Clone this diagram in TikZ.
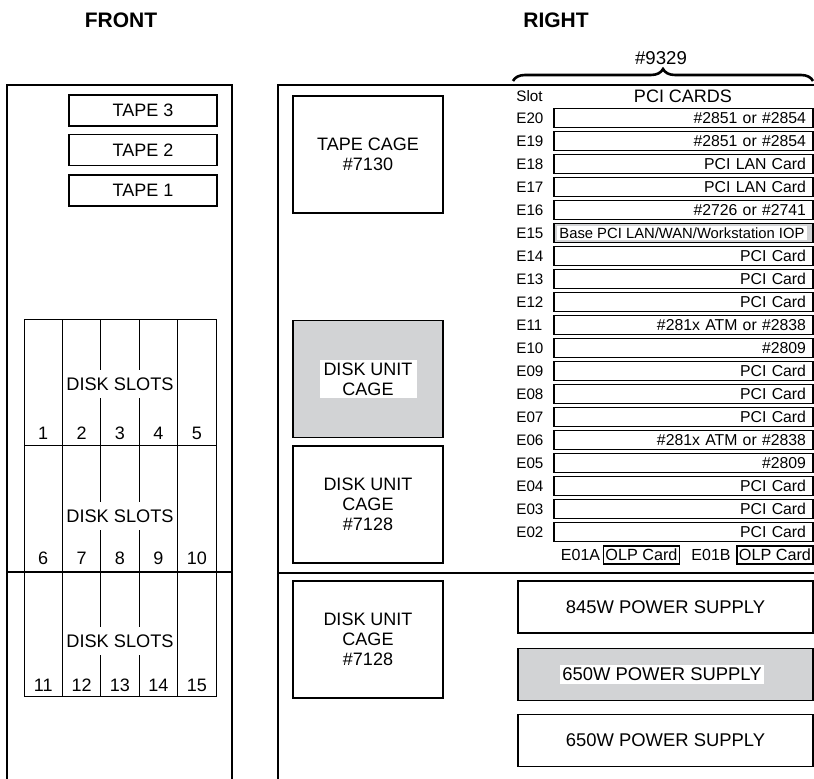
\documentclass[tikz,border=0pt]{standalone}
\usepackage{fontspec}
\setmainfont{Liberation Sans}
\usetikzlibrary{decorations.pathreplacing,positioning}
\definecolor{cagegray}{RGB}{210,211,213}

\begin{document}
\begin{tikzpicture}[x=0.5pt,y=-0.5pt,
  box/.style={draw,line width=0.55pt,inner sep=0pt},
  tapebox/.style={box,minimum width=74pt,minimum height=15.5pt,font=\fontsize{9}{10}\selectfont},
  cage/.style={box,minimum width=75pt,minimum height=58.5pt,align=center,font=\fontsize{9}{10}\selectfont},
  card/.style={box,line width=0.75pt,minimum height=9.5pt,text width=122.5pt,inner xsep=3.5pt,align=right,font=\fontsize{7.9}{8}\selectfont},
  slotlbl/.style={anchor=west,inner sep=0pt,font=\fontsize{7.6}{8}\selectfont},
  olp/.style={box,inner xsep=1pt,minimum height=9pt,font=\fontsize{8.1}{9}\selectfont},
  psu/.style={box,minimum width=147.5pt,minimum height=26pt,font=\fontsize{9.2}{10}\selectfont},
  disklbl/.style={fill=white,inner xsep=0pt,inner ysep=4pt,font=\fontsize{9.1}{10}\selectfont},
  numlbl/.style={inner sep=0pt,font=\fontsize{9}{10}\selectfont},
  title/.style={font=\fontsize{10.5}{12}\selectfont\bfseries}]
  \useasboundingbox (0,0) rectangle (814,779);
  % Titles
  \node[title] (front) at (121,20) {FRONT};
  \node[title] (right) at (556,20) {RIGHT};
  % Front frame
  \draw[line width=0.6pt] (7,779) -- (7,85) -- (232,85) -- (232,779);
  % Tape drives
  \node[tapebox] (tape3) at (143,110.5) {TAPE 3};
  \node[tapebox] (tape2) at (143,150) {TAPE 2};
  \node[tapebox] (tape1) at (143,190.5) {TAPE 1};
  % Disk slots
  \draw[line width=0.5pt] (24,320) rectangle (216,697);
  \draw[line width=0.5pt] (24,446) -- (216,446);
  \draw[line width=0.6pt] (7,572) -- (232,572);
  \foreach \x in {62.4,100.8,139.2,177.6}
    \draw[line width=0.5pt] (\x,320) -- (\x,697);
  \foreach \r/\y in {1/384,2/516,3/641}
    \node[disklbl] (slots\r) at (120,\y) {DISK SLOTS};
  \foreach \i/\x in {1/43.2,2/81.6,3/120,4/158.4,5/196.8}{
    \node[numlbl] (n\i) at (\x,433) {\i};
    \pgfmathtruncatemacro{\j}{\i+5}
    \node[numlbl] (n\j) at (\x,558) {\j};
    \pgfmathtruncatemacro{\k}{\i+10}
    \node[numlbl] (n\k) at (\x,685) {\k};
  }
  % Right frame
  \draw[line width=0.6pt] (278,779) -- (278,85) -- (814,85);
  \draw[line width=0.6pt] (278,573) -- (814,573);
  % Cages
  \node[cage] (tapecage) at (368,154.5) {TAPE CAGE\\\#7130};
  \node[cage,fill=cagegray] (diskcage1) at (368,379) {};
  \node[fill=white,inner xsep=2pt,inner ysep=1.5pt,align=center,font=\fontsize{9}{10}\selectfont] (diskcage1txt) at (diskcage1) {DISK UNIT\\CAGE};
  \node[cage] (diskcage2) at (368,504.5) {DISK UNIT\\CAGE\\\#7128};
  \node[cage] (diskcage3) at (368,639.5) {DISK UNIT\\CAGE\\\#7128};
  % Feature #9329
  \draw[decorate,decoration={brace,amplitude=6pt},line width=1.3pt] (513,81) -- (813,81);
  \node[font=\fontsize{9.3}{10}\selectfont] (feat) at (661,58) {\#9329};
  \node[slotlbl] (slothdr) at (516,96) {Slot};
  \node[font=\fontsize{9}{10}\selectfont] (pcihdr) at (683,96) {PCI CARDS};
  % PCI slots
  \foreach \s/\y in {E20/118,E19/141,E18/164,E17/187,E16/210,E15/233,E14/256,E13/279,E12/302,E11/325,E10/348,E09/371,E08/394,E07/417,E06/440,E05/463,E04/486,E03/509,E02/532}
    \node[slotlbl] (s\s) at (516,\y) {\s};
  \foreach \s/\y/\t in {E20/118/{\#2851 or \#2854},E19/141/{\#2851 or \#2854},E18/164/{PCI LAN Card},E17/187/{PCI LAN Card},E16/210/{\#2726 or \#2741},E14/256/{PCI Card},E13/279/{PCI Card},E12/302/{PCI Card},E11/325/{\#281x ATM or \#2838},E10/348/{\#2809},E09/371/{PCI Card},E08/394/{PCI Card},E07/417/{PCI Card},E06/440/{\#281x ATM or \#2838},E05/463/{\#2809},E04/486/{PCI Card},E03/509/{PCI Card},E02/532/{PCI Card}}
    \node[card] (c\s) at (683.5,\y) {\t};
  \node[card,fill=cagegray] (cE15) at (683.5,233) {};
  \node[anchor=west,fill=white,inner xsep=1pt,inner ysep=1pt,font=\fontsize{7.4}{8}\selectfont] (cE15txt) at (557,233) {Base PCI LAN/WAN/Workstation IOP};
  % OLP cards
  \node[font=\fontsize{8}{9}\selectfont,inner sep=0pt] (sE01A) at (580.5,555) {E01A};
  \node[olp] (olpA) at (641.5,555) {OLP Card};
  \node[font=\fontsize{8}{9}\selectfont,inner sep=0pt] (sE01B) at (711,555) {E01B};
  \node[olp] (olpB) at (775,555) {OLP Card};
  % Power supplies
  \node[psu] (psu1) at (665.5,607) {845W POWER SUPPLY};
  \node[psu,fill=cagegray] (psu2) at (665.5,674.5) {};
  \node[fill=white,inner xsep=1pt,inner ysep=1.5pt,font=\fontsize{9.2}{10}\selectfont] (psu2txt) at (662,674.5) {650W POWER SUPPLY};
  \node[psu] (psu3) at (665.5,740.5) {650W POWER SUPPLY};
\end{tikzpicture}
\end{document}
